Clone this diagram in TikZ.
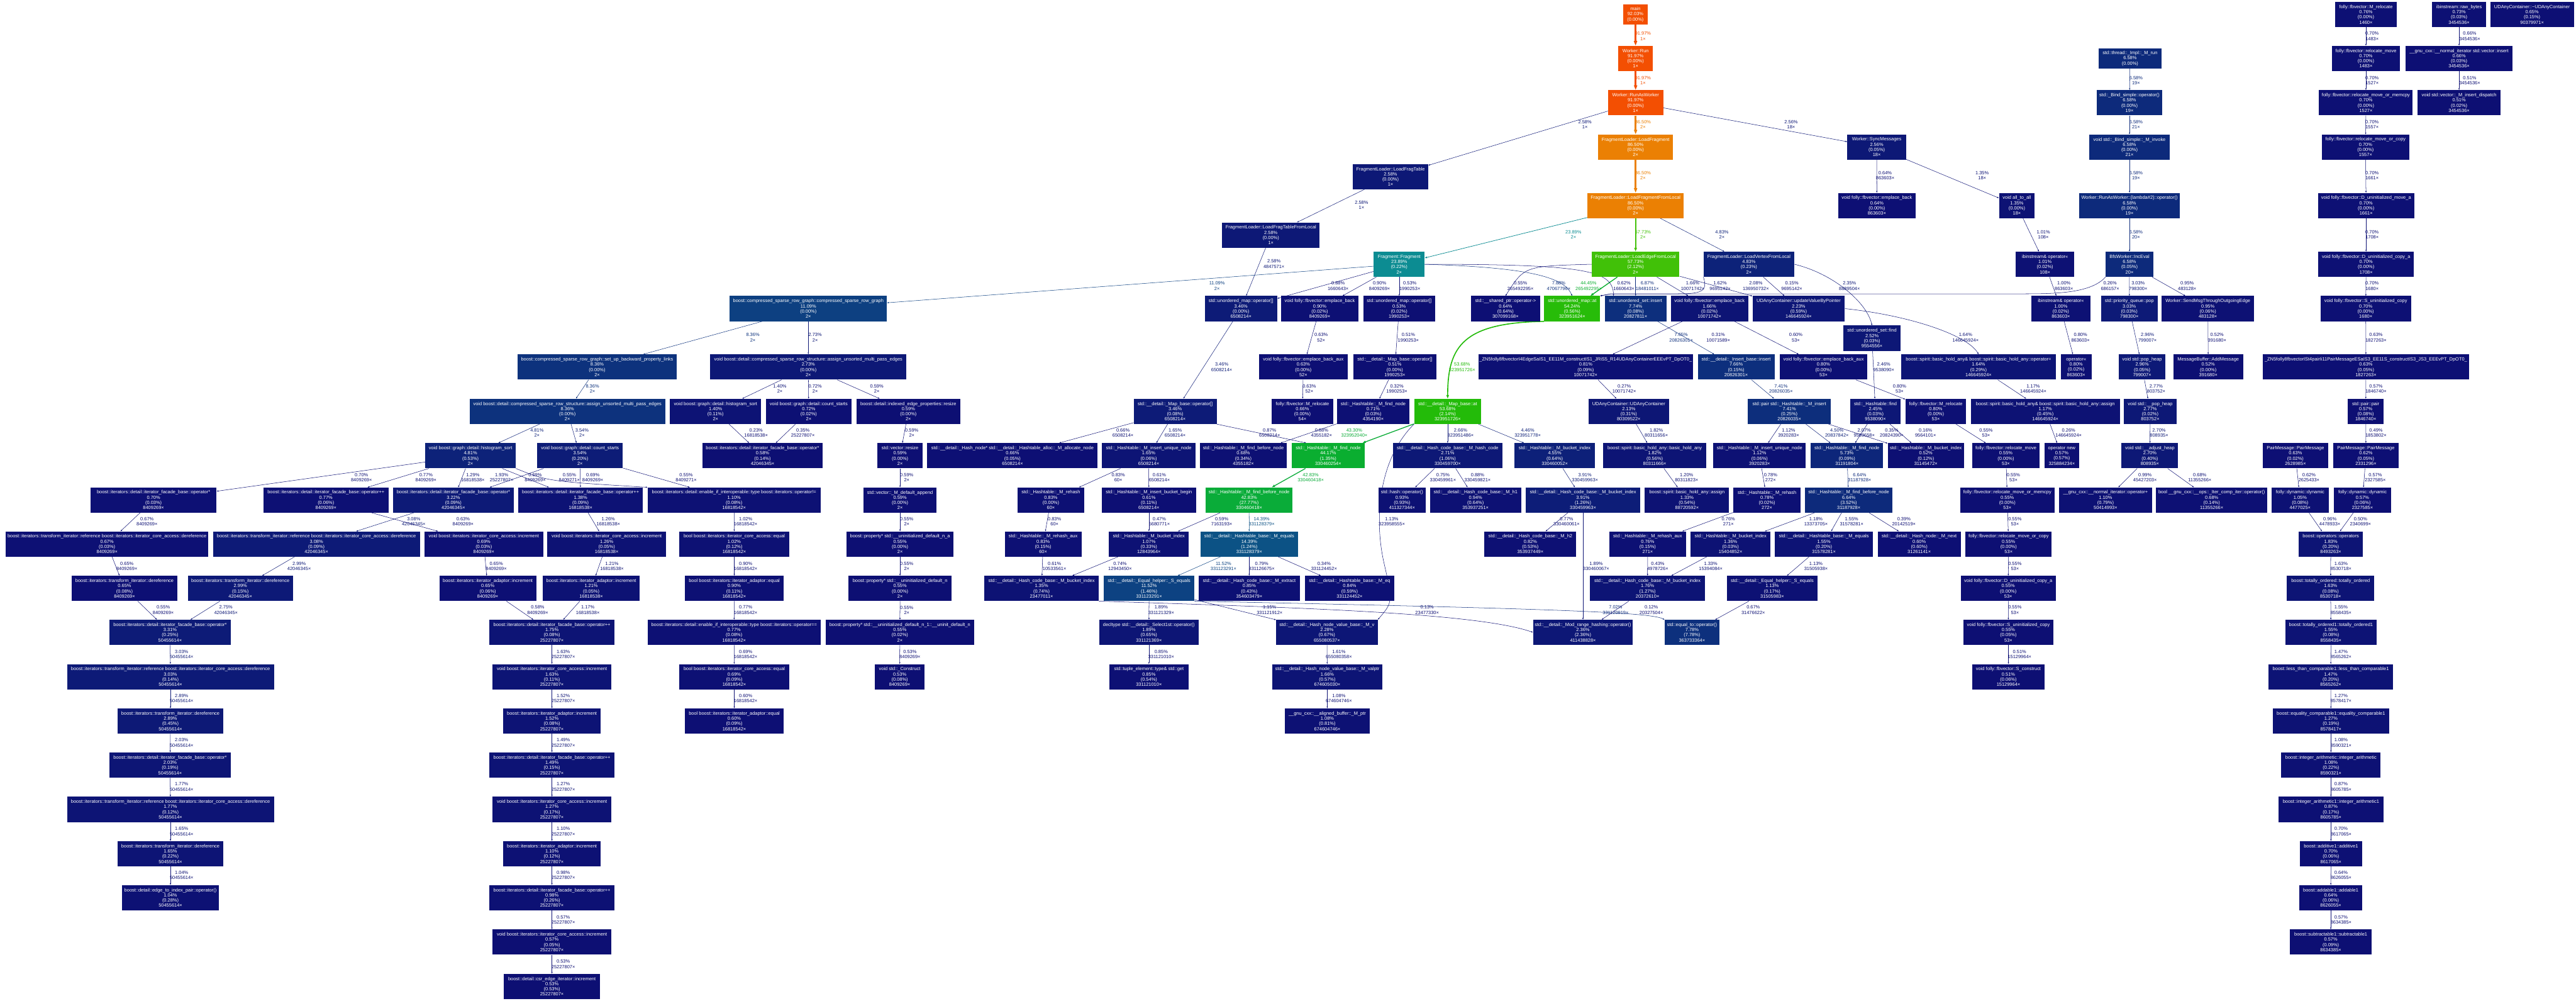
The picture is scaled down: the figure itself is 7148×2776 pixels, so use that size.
\documentclass[tikz,border=0pt]{standalone}
\usepackage{fontspec}
\setmainfont{Liberation Sans}
\usetikzlibrary{arrows.meta}
\pgfdeclarelayer{back}
\pgfdeclarelayer{bg}
\pgfsetlayers{back,bg,main}
\newcommand\hueval[3]{%
  \pgfmathparse{mod(#3+1,1)}\let\hx\pgfmathresult
  \pgfmathparse{max(0,min(1,ifthenelse(\hx*6<1,#1+(#2-#1)*\hx*6,ifthenelse(\hx*2<1,#2,ifthenelse(\hx*3<2,#1+(#2-#1)*(2/3-\hx)*6,#1)))))}%
}
\newcommand\gcol[2]{%
  \pgfmathsetmacro\cW{min(max(#2/100,0),1)}%
  \pgfmathsetmacro\cH{2/3*(1-\cW)}%
  \pgfmathsetmacro\cS{0.8+0.2*\cW}%
  \pgfmathsetmacro\cL{0.25+0.25*\cW}%
  \pgfmathsetmacro\cMb{\cL*(\cS+1)}%
  \pgfmathsetmacro\cMa{2*\cL-\cMb}%
  \hueval\cMa\cMb{\cH+1/3}\let\cR\pgfmathresult
  \hueval\cMa\cMb{\cH}\let\cG\pgfmathresult
  \hueval\cMa\cMb{\cH-1/3}\let\cB\pgfmathresult
  \definecolor{#1}{rgb}{\cR,\cG,\cB}%
}
\tikzset{
  nd/.style={rectangle, inner sep=0pt, minimum height=35pt, text=white, align=center, font=\fontsize{6.5}{7.25}\selectfont},
  lab/.style={inner sep=0pt, align=center, font=\fontsize{6.5}{7.25}\selectfont}
}
\newcommand\N[8]{%
  \gcol{ncol}{#6}%
  \pgfmathsetlengthmacro\nw{(#3-#2)*0.5pt}%
  \node[nd, fill=ncol, minimum width=\nw] (#1) at ({(#2+#3)/2},#4) {#5\\#6\%\\(#7\%)\\#8×};%
}
\newcommand\NT[7]{%
  \gcol{ncol}{#6}%
  \pgfmathsetlengthmacro\nw{(#3-#2)*0.5pt}%
  \node[nd, fill=ncol, minimum width=\nw, minimum height=27.5pt] (#1) at ({(#2+#3)/2},#4) {#5\\#6\%\\(#7\%)};%
}
\newcount\lcnt
\newcommand\E[7][--]{%
  \global\advance\lcnt by 1
  \begin{pgfonlayer}{bg}%
  \gcol{ecol}{#4}%
  \pgfmathsetmacro\pw{max(#4/100*4,0.5)}%
  \pgfmathsetlengthmacro\ew{max(\pw*0.667,0.45)*1pt}%
  \pgfmathsetlengthmacro\al{0.5*sqrt(\pw)*6.67pt}%
  \pgfmathsetlengthmacro\aw{0.5*sqrt(\pw)*4.6pt}%
  \edef\etmp{\noexpand\draw[ecol, line width=\ew, -{Triangle[length=\al, width=\aw]}]}%
  \etmp (#2) #1 (#3);
  \node[lab, text=ecol] (lab\the\lcnt) at (#6,#7) {#4\%\\#5×};
  \end{pgfonlayer}%
}
\newcommand\kIFB{boost::iterators::detail::iterator\_facade\_base::operator}
\newcommand\kTRD{boost::iterators::transform\_iterator::reference boost::iterators::iterator\_core\_access::dereference}
\newcommand\kTID{boost::iterators::transform\_iterator::dereference}
\newcommand\kICI{void boost::iterators::iterator\_core\_access::increment}
\newcommand\kIAI{boost::iterators::iterator\_adaptor::increment}
\begin{document}
\begin{tikzpicture}[x=0.5pt,y=-0.5pt]
\useasboundingbox (0,0) rectangle (7148,2776);
\begin{pgfonlayer}{back}\fill[white] (0,0) rectangle (7148,2776);\end{pgfonlayer}
% row 40
\NT{main}{4504}{4572}{40}{main}{92.03}{0.00}
\N{mrela}{6480}{6650}{40}{folly::fbvector::M\_relocate}{0.76}{0.00}{1460}
\N{rawb}{6749}{6898}{40}{ibinstream::raw\_bytes}{0.73}{0.03}{3454536}
\N{udd}{6910}{7142}{40}{UDAnyContainer::\textasciitilde UDAnyContainer}{0.65}{0.15}{90379971}
% row 162
\N{run}{4491}{4586}{162}{Worker::Run}{91.97}{0.00}{1}
\NT{mrun}{5823}{5998}{162}{std::thread::\_Impl::\_M\_run}{6.58}{0.00}
\N{rmva}{6471}{6659}{162}{folly::fbvector::relocate\_move}{0.70}{0.00}{1483}
\N{vins}{6675}{6972}{162}{\_\_gnu\_cxx::\_\_normal\_iterator std::vector::insert}{0.66}{0.03}{3454536}
% row 285
\N{raw}{4462}{4615}{285}{Worker::RunAsWorker}{91.97}{0.00}{1}
\N{bsop}{5818}{6000}{285}{std::\_Bind\_simple::operator()}{6.58}{0.00}{19}
\N{rmma}{6435}{6695}{285}{folly::fbvector::relocate\_move\_or\_memcpy}{0.70}{0.00}{1527}
\N{insd}{6709}{6938}{285}{void std::vector::\_M\_insert\_dispatch}{0.51}{0.02}{3454536}
% row 408
\N{lf}{4435}{4642}{408}{FragmentLoader::LoadFragment}{86.50}{0.00}{2}
\N{sync}{5126}{5289}{408}{Worker::SyncMessages}{2.56}{0.05}{18}
\N{bsinv}{5798}{6020}{408}{void std::\_Bind\_simple::\_M\_invoke}{6.58}{0.00}{21}
\N{rmca}{6443}{6685}{408}{folly::fbvector::relocate\_move\_or\_copy}{0.70}{0.00}{1557}
\N{lft}{3754}{3963}{490}{FragmentLoader::LoadFragTable}{2.58}{0.00}{1}
% row 570
\N{lffl}{4405}{4672}{570}{FragmentLoader::LoadFragmentFromLocal}{86.50}{0.00}{2}
\N{emba}{5101}{5315}{570}{void folly::fbvector::emplace\_back}{0.64}{0.00}{863603}
\N{atoa}{5547}{5646}{570}{void all\_to\_all}{1.35}{0.00}{18}
\N{lam}{5769}{6049}{570}{Worker::RunAsWorker::\{lambda\#2\}::operator()}{6.58}{0.00}{19}
\N{duma}{6432}{6699}{570}{void folly::fbvector::D\_uninitialized\_move\_a}{0.70}{0.00}{1661}
\N{lftl}{3391}{3662}{652}{FragmentLoader::LoadFragTableFromLocal}{2.58}{0.00}{1}
% row 733
\N{frag}{3812}{3953}{733}{Fragment::Fragment}{23.89}{0.22}{2}
\N{lefl}{4417}{4660}{733}{FragmentLoader::LoadEdgeFromLocal}{57.73}{2.12}{2}
\N{lvfl}{4727}{4979}{733}{FragmentLoader::LoadVertexFromLocal}{4.83}{0.23}{2}
\N{ibina}{5593}{5756}{733}{ibinstream\& operator<<}{1.01}{0.02}{108}
\N{inc}{5843}{5975}{733}{BfsWorker::IncEval}{6.58}{0.05}{20}
\N{duca}{6433}{6698}{733}{void folly::fbvector::D\_uninitialized\_copy\_a}{0.70}{0.00}{1708}
% row 856
\N{csr}{2025}{2461}{856}{boost::compressed\_sparse\_row\_graph::compressed\_sparse\_row\_graph}{11.09}{0.00}{2}
\N{umopa}{3343}{3544}{856}{std::unordered\_map::operator[]}{3.46}{0.00}{6508214}
\N{embb}{3555}{3769}{856}{void folly::fbvector::emplace\_back}{0.90}{0.02}{8409269}
\N{umopb}{3783}{3982}{856}{std::unordered\_map::operator[]}{0.53}{0.02}{1990253}
\N{shp}{4082}{4273}{856}{std::\_\_shared\_ptr::operator->}{0.64}{0.64}{307099168}
\N{umat}{4285}{4440}{856}{std::unordered\_map::at}{54.24}{0.56}{323951624}
\N{usins}{4453}{4624}{856}{std::unordered\_set::insert}{7.74}{0.08}{20827811}
\N{embc}{4636}{4851}{856}{void folly::fbvector::emplace\_back}{1.66}{0.02}{10071742}
\N{udup}{4863}{5119}{856}{UDAnyContainer::updateValueByPointer}{2.23}{0.59}{146645924}
\N{ibinb}{5637}{5800}{856}{ibinstream\& operator<<}{1.00}{0.02}{863603}
\N{pq}{5830}{5987}{856}{std::priority\_queue::pop}{3.03}{0.03}{798300}
\N{send}{5998}{6255}{856}{Worker::SendMsgThroughOutgoingEdge}{0.95}{0.06}{483128}
\N{suca}{6439}{6690}{856}{void folly::fbvector::S\_uninitialized\_copy}{0.70}{0.00}{1680}
\N{usfind}{5115}{5274}{938}{std::unordered\_set::find}{2.52}{0.03}{9554556}
% row 1018
\N{sub}{1436}{1878}{1018}{boost::compressed\_sparse\_row\_graph::set\_up\_backward\_property\_links}{8.36}{0.00}{2}
\N{asmb}{1971}{2515}{1018}{void boost::detail::compressed\_sparse\_row\_structure::assign\_unsorted\_multi\_pass\_edges}{2.73}{0.00}{2}
\N{ebaa}{3494}{3739}{1018}{void folly::fbvector::emplace\_back\_aux}{0.63}{0.00}{52}
\N{mbopb}{3755}{3986}{1018}{std::\_\_detail::\_Map\_base::operator[]}{0.51}{0.00}{1990253}
\N{zna}{4102}{4698}{1018}{\_ZN5folly8fbvectorI4EdgeSaIS1\_EE11M\_constructIS1\_JRiS5\_R14UDAnyContainerEEEvPT\_DpOT0\_}{0.81}{0.09}{10071742}
\N{insb}{4711}{4924}{1018}{std::\_\_detail::\_Insert\_base::insert}{7.66}{0.15}{20826301}
\N{ebab}{4938}{5182}{1018}{void folly::fbvector::emplace\_back\_aux}{0.80}{0.00}{53}
\N{hao}{5275}{5705}{1018}{boost::spirit::basic\_hold\_any\& boost::spirit::basic\_hold\_any::operator=}{1.64}{0.29}{146645924}
\N{opll}{5718}{5804}{1018}{operator<<}{0.80}{0.02}{863603}
\N{poph}{5879}{6009}{1018}{void std::pop\_heap}{2.96}{0.05}{799007}
\N{addm}{6031}{6224}{1018}{MessageBuffer::AddMessage}{0.52}{0.00}{391680}
\N{znb}{6278}{6852}{1018}{\_ZN5folly8fbvectorISt4pairIi11PairMessageESaIS3\_EE11S\_constructIS3\_JS3\_EEEvPT\_DpOT0\_}{0.63}{0.05}{1827263}
% row 1141
\N{asma}{1303}{1846}{1141}{void boost::detail::compressed\_sparse\_row\_structure::assign\_unsorted\_multi\_pass\_edges}{8.36}{0.00}{2}
\N{hsb}{1859}{2112}{1141}{void boost::graph::detail::histogram\_sort}{1.40}{0.11}{2}
\N{csb}{2125}{2363}{1141}{void boost::graph::detail::count\_starts}{0.72}{0.02}{2}
\N{iepr}{2376}{2665}{1141}{boost::detail::indexed\_edge\_properties::resize}{0.59}{0.00}{2}
\N{mbopa}{3146}{3376}{1141}{std::\_\_detail::\_Map\_base::operator[]}{3.46}{0.08}{6508214}
\N{mrelb}{3529}{3699}{1141}{folly::fbvector::M\_relocate}{0.66}{0.00}{54}
\N{fnb}{3710}{3911}{1141}{std::\_Hashtable::\_M\_find\_node}{0.71}{0.03}{4354190}
\N{mbat}{3924}{4110}{1141}{std::\_\_detail::\_Map\_base::at}{53.68}{2.14}{323951726}
\N{udc}{4408}{4631}{1141}{UDAnyContainer::UDAnyContainer}{2.13}{0.31}{80309522}
\N{hins}{4850}{5080}{1141}{std::pair std::\_Hashtable::\_M\_insert}{7.41}{0.25}{20826035}
\N{hfind}{5134}{5274}{1141}{std::\_Hashtable::find}{2.45}{0.03}{9538090}
\N{mrelc}{5287}{5456}{1141}{folly::fbvector::M\_relocate}{0.80}{0.00}{53}
\N{hasg}{5469}{5882}{1141}{boost::spirit::basic\_hold\_any\& boost::spirit::basic\_hold\_any::assign}{1.17}{0.45}{146645924}
\N{pph}{5894}{6039}{1141}{void std::\_\_pop\_heap}{2.77}{0.02}{803752}
\N{pair}{6515}{6614}{1141}{std::pair::pair}{0.57}{0.08}{1846740}
% row 1264
\N{hsa}{1180}{1431}{1264}{void boost::graph::detail::histogram\_sort}{4.81}{0.53}{2}
\N{csa}{1491}{1728}{1264}{void boost::graph::detail::count\_starts}{3.54}{0.20}{2}
\N{ifoa}{1949}{2283}{1264}{\kIFB*}{0.58}{0.14}{42046345}
\N{vres}{2435}{2560}{1264}{std::vector::resize}{0.59}{0.00}{2}
\N{alloc}{2573}{3046}{1264}{std::\_\_detail::\_Hash\_node* std::\_\_detail::\_Hashtable\_alloc::\_M\_allocate\_node}{0.66}{0.05}{6508214}
\N{iuna}{3058}{3317}{1264}{std::\_Hashtable::\_M\_insert\_unique\_node}{1.65}{0.06}{6508214}
\N{fbnb}{3329}{3571}{1264}{std::\_Hashtable::\_M\_find\_before\_node}{0.68}{0.34}{4355182}
\N{fna}{3585}{3786}{1264}{std::\_Hashtable::\_M\_find\_node}{44.17}{1.35}{330460254}
\N{hcode}{3865}{4169}{1264}{std::\_\_detail::\_Hash\_code\_base::\_M\_hash\_code}{2.71}{1.06}{330459700}
\N{bia}{4203}{4425}{1264}{std::\_Hashtable::\_M\_bucket\_index}{4.55}{0.64}{330460052}
\N{bha}{4448}{4735}{1264}{boost::spirit::basic\_hold\_any::basic\_hold\_any}{1.82}{0.56}{80311666}
\N{iunb}{4754}{5011}{1264}{std::\_Hashtable::\_M\_insert\_unique\_node}{1.12}{0.06}{3920283}
\N{fnc}{5025}{5225}{1264}{std::\_Hashtable::\_M\_find\_node}{5.73}{0.09}{31191804}
\N{bib}{5238}{5450}{1264}{std::\_Hashtable::\_M\_bucket\_index}{0.52}{0.12}{31145472}
\N{rmvb}{5472}{5660}{1264}{folly::fbvector::relocate\_move}{0.55}{0.00}{53}
\N{opnew}{5673}{5769}{1264}{operator new}{0.57}{0.57}{325884234}
\N{adjh}{5887}{6044}{1264}{void std::\_\_adjust\_heap}{2.70}{0.40}{808935}
\N{pma}{6278}{6461}{1264}{PairMessage::PairMessage}{0.63}{0.02}{2628985}
\N{pmb}{6474}{6656}{1264}{PairMessage::PairMessage}{0.62}{0.05}{2331296}
% row 1387
\N{ifob}{251}{601}{1387}{\kIFB*}{0.70}{0.03}{8409269}
\N{ifpa}{731}{1078}{1387}{\kIFB++}{0.77}{0.06}{8409269}
\N{ifoc}{1090}{1426}{1387}{\kIFB*}{3.22}{0.09}{42046345}
\N{ifpb}{1438}{1784}{1387}{\kIFB++}{1.38}{0.09}{16818538}
\N{eine}{1797}{2277}{1387}{boost::iterators::detail::enable\_if\_interoperable::type boost::iterators::operator!=}{1.10}{0.08}{16818542}
\N{dapp}{2396}{2599}{1387}{std::vector::\_M\_default\_append}{0.59}{0.00}{2}
\N{reha}{2823}{3009}{1387}{std::\_Hashtable::\_M\_rehash}{0.83}{0.00}{60}
\N{ibb}{3057}{3319}{1387}{std::\_Hashtable::\_M\_insert\_bucket\_begin}{0.61}{0.11}{6508214}
\N{fbna}{3345}{3587}{1387}{std::\_Hashtable::\_M\_find\_before\_node}{42.83}{27.77}{330460418}
\N{hash}{3825}{3956}{1387}{std::hash::operator()}{0.93}{0.93}{411327344}
\N{hone}{3968}{4221}{1387}{std::\_\_detail::\_Hash\_code\_base::\_M\_h1}{0.94}{0.64}{353937251}
\N{hcba}{4233}{4552}{1387}{std::\_\_detail::\_Hash\_code\_base::\_M\_bucket\_index}{3.91}{1.26}{330459963}
\N{hasn}{4564}{4798}{1387}{boost::spirit::basic\_hold\_any::assign}{1.33}{0.54}{88720592}
\N{rehb}{4810}{4996}{1387}{std::\_Hashtable::\_M\_rehash}{0.78}{0.02}{272}
\N{fbnc}{5009}{5251}{1387}{std::\_Hashtable::\_M\_find\_before\_node}{6.64}{3.52}{31187928}
\N{rmmb}{5439}{5701}{1387}{folly::fbvector::relocate\_move\_or\_memcpy}{0.55}{0.00}{53}
\N{nip}{5714}{5971}{1387}{\_\_gnu\_cxx::\_\_normal\_iterator::operator+}{1.10}{0.79}{50414993}
\N{icmp}{5983}{6291}{1387}{bool \_\_gnu\_cxx::\_\_ops::\_Iter\_comp\_iter::operator()}{0.68}{0.14}{11355266}
\N{dyna}{6303}{6462}{1387}{folly::dynamic::dynamic}{1.05}{0.08}{4477025}
\N{dynb}{6476}{6635}{1387}{folly::dynamic::dynamic}{0.57}{0.06}{2327585}
% row 1509
\N{icda}{16}{578}{1509}{\kTRD}{0.67}{0.03}{8409269}
\N{trdb}{591}{1165}{1509}{\kTRD}{3.08}{0.09}{42046345}
\N{icia}{1178}{1507}{1509}{\kICI}{0.69}{0.03}{8409269}
\N{icib}{1519}{1848}{1509}{\kICI}{1.26}{0.05}{16818538}
\N{iceq}{1885}{2190}{1509}{bool boost::iterators::iterator\_core\_access::equal}{1.02}{0.12}{16818542}
\N{udna}{2349}{2646}{1509}{boost::property* std::\_\_uninitialized\_default\_n\_a}{0.55}{0.00}{2}
\N{rhaa}{2788}{3001}{1509}{std::\_Hashtable::\_M\_rehash\_aux}{0.83}{0.15}{60}
\N{bic}{3077}{3299}{1509}{std::\_Hashtable::\_M\_bucket\_index}{1.07}{0.33}{12843964}
\N{meqa}{3331}{3602}{1509}{std::\_\_detail::\_Hashtable\_base::\_M\_equals}{14.39}{1.24}{331128379}
\N{htwo}{4119}{4374}{1509}{std::\_\_detail::\_Hash\_code\_base::\_M\_h2}{0.82}{0.53}{353937449}
\N{rhab}{4465}{4679}{1509}{std::\_Hashtable::\_M\_rehash\_aux}{0.76}{0.15}{271}
\N{bid}{4691}{4913}{1509}{std::\_Hashtable::\_M\_bucket\_index}{1.36}{0.03}{15404852}
\N{meqb}{4925}{5197}{1509}{std::\_\_detail::\_Hashtable\_base::\_M\_equals}{1.55}{0.20}{31578281}
\N{next}{5210}{5441}{1509}{std::\_\_detail::\_Hash\_node::\_M\_next}{0.60}{0.60}{31261141}
\N{rmcb}{5454}{5693}{1509}{folly::fbvector::relocate\_move\_or\_copy}{0.55}{0.00}{53}
\N{opers}{6378}{6557}{1509}{boost::operators::operators}{1.83}{0.20}{8493263}
% row 1632
\N{tdra}{199}{492}{1632}{\kTID}{0.65}{0.08}{8409269}
\N{tdrb}{521}{813}{1632}{\kTID}{2.99}{0.15}{42046345}
\N{iaia}{1219}{1488}{1632}{\kIAI}{0.65}{0.06}{8409269}
\N{iaib}{1506}{1775}{1632}{\kIAI}{1.21}{0.05}{16818538}
\N{iaea}{1900}{2175}{1632}{bool boost::iterators::iterator\_adaptor::equal}{0.90}{0.11}{16818542}
\N{udn}{2355}{2640}{1632}{boost::property* std::\_\_uninitialized\_default\_n}{0.55}{0.00}{2}
\N{hcbb}{2731}{3049}{1632}{std::\_\_detail::\_Hash\_code\_base::\_M\_bucket\_index}{1.35}{0.74}{23477011}
\N{seqa}{3063}{3314}{1632}{std::\_\_detail::\_Equal\_helper::\_S\_equals}{11.52}{1.46}{331123291}
\N{mext}{3326}{3607}{1632}{std::\_\_detail::\_Hash\_code\_base::\_M\_extract}{0.85}{0.43}{354603479}
\N{meqc}{3621}{3869}{1632}{std::\_\_detail::\_Hashtable\_base::\_M\_eq}{0.84}{0.59}{331124452}
\N{hcbc}{4412}{4731}{1632}{std::\_\_detail::\_Hash\_code\_base::\_M\_bucket\_index}{1.76}{1.27}{20372610}
\N{seqb}{4792}{5043}{1632}{std::\_\_detail::\_Equal\_helper::\_S\_equals}{1.13}{0.17}{31505983}
\N{ducb}{5441}{5704}{1632}{void folly::fbvector::D\_uninitialized\_copy\_a}{0.55}{0.00}{53}
\N{tord}{6346}{6588}{1632}{boost::totally\_ordered::totally\_ordered}{1.63}{0.08}{8530718}
% row 1754
\N{ifod}{304}{640}{1754}{\kIFB*}{3.31}{0.25}{50455614}
\N{ifpc}{1358}{1705}{1754}{\kIFB++}{1.75}{0.08}{25227807}
\N{eieq}{1797}{2277}{1754}{boost::iterators::detail::enable\_if\_interoperable::type boost::iterators::operator==}{0.77}{0.08}{16818542}
\N{udno}{2291}{2703}{1754}{boost::property* std::\_\_uninitialized\_default\_n\_1::\_\_uninit\_default\_n}{0.55}{0.02}{2}
\N{sel}{3050}{3326}{1754}{decltype std::\_\_detail::\_Select1st::operator()}{1.89}{0.65}{331121369}
\N{mv}{3541}{3823}{1754}{std::\_\_detail::\_Hash\_node\_value\_base::\_M\_v}{2.28}{0.67}{655080537}
\N{mrh}{4254}{4531}{1754}{std::\_\_detail::\_Mod\_range\_hashing::operator()}{2.36}{2.36}{411438828}
\N{eqto}{4619}{4771}{1754}{std::equal\_to::operator()}{7.78}{7.78}{363733364}
\N{sucb}{5448}{5698}{1754}{void folly::fbvector::S\_uninitialized\_copy}{0.55}{0.05}{53}
\N{tordo}{6341}{6595}{1754}{boost::totally\_ordered1::totally\_ordered1}{1.55}{0.08}{8558435}
% row 1877
\N{trdc}{186}{760}{1877}{\kTRD}{3.03}{0.14}{50455614}
\N{icic}{1367}{1696}{1877}{\kICI}{1.63}{0.11}{25227807}
\N{iceqb}{1885}{2190}{1877}{bool boost::iterators::iterator\_core\_access::equal}{0.69}{0.09}{16818542}
\N{cons}{2427}{2566}{1877}{void std::\_Construct}{0.53}{0.08}{8409269}
\N{get}{3078}{3298}{1877}{std::tuple\_element::type\& std::get}{0.85}{0.54}{331121010}
\N{vptr}{3530}{3836}{1877}{std::\_\_detail::\_Hash\_node\_value\_base::\_M\_valptr}{1.66}{0.57}{674605030}
\N{scons}{5472}{5674}{1877}{void folly::fbvector::S\_construct}{0.51}{0.06}{15129964}
\N{ltc}{6295}{6640}{1877}{boost::less\_than\_comparable1::less\_than\_comparable1}{1.47}{0.20}{8565262}
% row 2000
\N{tdrc}{326}{620}{2000}{\kTID}{2.89}{0.45}{50455614}
\N{iaic}{1396}{1667}{2000}{\kIAI}{1.52}{0.08}{25227807}
\N{iaeb}{1900}{2175}{2000}{bool boost::iterators::iterator\_adaptor::equal}{0.60}{0.09}{16818542}
\N{mptr}{3566}{3800}{2000}{\_\_gnu\_cxx::\_\_aligned\_buffer::\_M\_ptr}{1.08}{0.81}{674604746}
\N{eqc}{6307}{6629}{2000}{boost::equality\_comparable1::equality\_comparable1}{1.27}{0.19}{8578417}
% rows 2122-2736
\N{ifoe}{304}{640}{2122}{\kIFB*}{2.03}{0.19}{50455614}
\N{ifpd}{1358}{1705}{2122}{\kIFB++}{1.49}{0.15}{25227807}
\N{iar}{6330}{6606}{2122}{boost::integer\_arithmetic::integer\_arithmetic}{1.08}{0.22}{8590321}
\N{trdd}{186}{760}{2245}{\kTRD}{1.77}{0.12}{50455614}
\N{icid}{1367}{1696}{2245}{\kICI}{1.27}{0.17}{25227807}
\N{iaro}{6322}{6614}{2245}{boost::integer\_arithmetic1::integer\_arithmetic1}{0.87}{0.17}{8605785}
\N{tdrd}{326}{620}{2368}{\kTID}{1.65}{0.22}{50455614}
\N{iaid}{1396}{1667}{2368}{\kIAI}{1.10}{0.12}{25227807}
\N{addo}{6382}{6554}{2368}{boost::additive1::additive1}{0.70}{0.06}{8617065}
\N{etip}{339}{607}{2490}{boost::detail::edge\_to\_index\_pair::operator()}{1.04}{0.28}{50455614}
\N{ifpe}{1358}{1705}{2490}{\kIFB++}{0.98}{0.26}{25227807}
\N{addb}{6380}{6555}{2490}{boost::addable1::addable1}{0.64}{0.06}{8626055}
\N{icie}{1367}{1696}{2613}{\kICI}{0.57}{0.05}{25227807}
\N{subt}{6354}{6581}{2613}{boost::subtractable1::subtractable1}{0.57}{0.09}{8634385}
\N{csri}{1398}{1665}{2736}{boost::detail::csr\_edge\_iterator::increment}{0.53}{0.53}{25227807}
% ---------------- edges
\E{main}{run}{91.97}{1}{4559}{100}
\E{run}{raw}{91.97}{1}{4559}{223}
\E{raw}{lft}{2.58}{1}{4398}{345}
\E{raw}{lf}{86.50}{2}{4559}{345}
\E{raw}{sync}{2.56}{18}{4970}{345}
\E{lf}{lffl}{86.50}{2}{4559}{487}
\E{sync}{emba}{0.64}{863603}{5231}{487}
\E{sync}{atoa}{1.35}{18}{5500}{487}
\E{lft}{lftl}{2.58}{1}{3778}{569}
\E{lffl}{frag}{23.89}{2}{4366}{651}
\E{lffl}{lefl}{57.73}{2}{4559}{651}
\E{lffl}{lvfl}{4.83}{2}{4778}{651}
\E{atoa}{ibina}{1.01}{108}{5670}{651}
\E{mrun}{bsop}{6.58}{19}{5927}{223}
\E{bsop}{bsinv}{6.58}{21}{5927}{345}
\E{bsinv}{lam}{6.58}{19}{5927}{487}
\E{lam}{inc}{6.58}{20}{5927}{651}
\E{mrela}{rmva}{0.70}{1483}{6582}{100}
\E{rawb}{vins}{0.66}{3454536}{6853}{100}
\E{rmva}{rmma}{0.70}{1527}{6582}{223}
\E{vins}{insd}{0.51}{3454536}{6853}{223}
\E{rmma}{rmca}{0.70}{1557}{6582}{345}
\E{rmca}{duma}{0.70}{1661}{6582}{487}
\E{duma}{duca}{0.70}{1708}{6582}{651}
\E{duca}{suca}{0.70}{1680}{6582}{793}
\E{lftl}{umopa}{2.58}{4847571}{3535}{732}
\E{frag}{csr}{11.09}{2}{3377}{793}
\E{frag}{umopa}{0.88}{1660643}{3713}{793}
\E{frag}{embb}{0.90}{8409269}{3828}{793}
\E{frag}{umopb}{0.53}{1990253}{3912}{793}
\E[.. controls (4230,738) ..]{lefl.west}{shp.north}{0.55}{265492295}{4219}{793}
\E[.. controls (4250,742) and (4340,770) ..]{frag.east}{umat.north}{7.88}{47067796}{4325}{793}
\E{lefl}{umat}{44.45}{265492295}{4408}{793}
\E[.. controls (4400,733) and (4475,750) ..]{frag.east}{usins.150}{0.62}{1660643}{4506}{793}
\E{lefl}{usins}{6.87}{18481011}{4571}{793}
\E{lefl}{embc}{1.66}{10071742}{4697}{793}
\E[.. controls (4740,810) and (4720,815) .. (4650,815) -- (4470,815) --]{lvfl.south west}{umat.north east}{1.62}{9695142}{4773}{793}
\E{lefl}{udup}{2.08}{136950732}{4872}{793}
\E{lvfl}{udup}{0.15}{9695142}{4972}{793}
\E[.. controls (5090,760) and (5180,840) ..]{lvfl.east}{usfind.north}{2.35}{8889504}{5132}{793}
\E{ibina}{ibinb}{1.00}{863603}{5727}{793}
\E[.. controls (5800,815) and (5700,815) .. (5600,815) -- (4470,815) --]{inc.south west}{umat.north east}{0.26}{686157}{5855}{793}
\E{inc}{pq}{3.03}{798300}{5933}{793}
\E{inc}{send}{0.95}{483128}{6069}{793}
\E{umopb}{mbopb}{0.51}{1990253}{3908}{936}
\E{usins}{insb}{7.65}{20826301}{4665}{936}
\E{embc}{zna}{0.31}{10071589}{4768}{936}
\E{embc}{ebab}{0.60}{53}{4983}{936}
\E[.. controls (5300,875) and (5460,930) ..]{udup.east}{hao.north}{1.64}{146645924}{5454}{936}
\E{ibinb}{opll}{0.80}{863603}{5773}{936}
\E{pq}{poph}{2.96}{799007}{5959}{936}
\E{send}{addm}{0.52}{391680}{6152}{936}
\E{suca}{znb}{0.63}{1827263}{6593}{936}
\E{csr}{sub}{8.36}{2}{2089}{936}
\E{csr}{asmb}{2.73}{2}{2262}{936}
\E{embb}{ebaa}{0.63}{52}{3666}{936}
\E{umopa}{mbopa}{3.46}{6508214}{3390}{1018}
\E{usfind}{hfind}{2.46}{9538090}{5227}{1018}
\E[.. controls (4060,895) and (4017,960) ..]{umat.south west}{mbat.north}{53.68}{323951726}{4057}{1018}
\E{sub}{asma}{8.36}{2}{1644}{1078}
\E{asmb}{hsb}{1.40}{2}{2164}{1078}
\E{asmb}{csb}{0.72}{2}{2262}{1078}
\E{asmb}{iepr}{0.59}{2}{2433}{1078}
\E{ebaa}{mrelb}{0.63}{52}{3633}{1078}
\E{mbopb}{fnb}{0.32}{1990253}{3876}{1078}
\E{zna}{udc}{0.27}{10071742}{4507}{1078}
\E{insb}{hins}{7.41}{20826035}{4942}{1078}
\E{ebab}{mrelc}{0.80}{53}{5271}{1078}
\E{hao}{hasg}{1.17}{146645924}{5642}{1078}
\E{poph}{pph}{2.77}{803752}{5983}{1078}
\E{znb}{pair}{0.57}{1846740}{6593}{1078}
\E{asma}{hsa}{4.81}{2}{1490}{1201}
\E{asma}{csa}{3.54}{2}{1615}{1201}
\E{hsb}{ifoa}{0.23}{16818538}{2098}{1201}
\E{csb}{ifoa}{0.35}{25227807}{2228}{1201}
\E{iepr}{vres}{0.59}{2}{2530}{1201}
\E{mbopa}{alloc}{0.66}{6508214}{3116}{1201}
\E{mbopa}{iuna}{1.65}{6508214}{3261}{1201}
\E{mbopa.south east}{fna.150}{0.87}{6508214}{3523}{1201}
\E{fnb}{fbnb}{0.68}{4355182}{3667}{1201}
\E{mbat}{fna}{43.30}{323952040}{3758}{1201}
\E{mbat}{hcode}{2.66}{323951486}{4053}{1201}
\E{mbat}{bia}{4.46}{323951778}{4239}{1201}
\E{udc}{bha}{1.82}{80311656}{4596}{1201}
\E{hins}{iunb}{1.12}{3920283}{4963}{1201}
\E{hins}{fnc}{4.50}{20837842}{5097}{1201}
\E{hfind}{fnc}{2.07}{9589658}{5173}{1201}
\E{hins}{bib}{0.35}{20824390}{5249}{1201}
\E{hfind}{bib}{0.16}{9564101}{5343}{1201}
\E{mrelc}{rmvb}{0.55}{53}{5511}{1201}
\E{hasg}{opnew}{0.26}{146645924}{5740}{1201}
\E{pph}{adjh}{2.70}{808935}{5991}{1201}
\E{pair}{pmb}{0.49}{1853802}{6593}{1201}
\E{hsa}{ifob}{0.70}{8409269}{1003}{1324}
\E{hsa}{ifpa}{0.77}{8409269}{1182}{1324}
\E{hsa}{ifoc}{1.29}{16818538}{1312}{1324}
\E{csa}{ifoc}{1.93}{25227807}{1392}{1324}
\E{hsa}{ifpb}{0.69}{8409269}{1485}{1324}
\E[.. controls (1520,1335) ..]{hsa.south east}{eine.north west}{0.55}{8409271}{1580}{1324}
\E{csa}{ifpb}{0.69}{8409269}{1645}{1324}
\E{csa}{eine}{0.55}{8409271}{1904}{1324}
\E{vres}{dapp}{0.59}{2}{2516}{1324}
\E{iuna}{reha}{0.83}{60}{3103}{1324}
\E{iuna}{ibb}{0.61}{6508214}{3217}{1324}
\E{fna}{fbna}{42.83}{330460418}{3637}{1324}
\E{hcode}{hash}{0.75}{330459961}{4004}{1324}
\E{hcode}{hone}{0.88}{330459821}{4100}{1324}
\E{bia}{hcba}{3.91}{330459963}{4398}{1324}
\E{bha}{hasn}{1.20}{80311823}{4680}{1324}
\E{iunb}{rehb}{0.78}{272}{4913}{1324}
\E{fnc}{fbnc}{6.64}{31187928}{5160}{1324}
\E{rmvb}{rmmb}{0.55}{53}{5587}{1324}
\E{adjh}{nip}{0.99}{45427203}{5952}{1324}
\E{adjh}{icmp}{0.68}{11355266}{6104}{1324}
\E{pma}{dyna}{0.62}{2625433}{6407}{1324}
\E{pmb}{dynb}{0.57}{2327585}{6591}{1324}
\E{ifob}{icda}{0.67}{8409269}{408}{1447}
\E{ifoc}{trdb}{3.08}{42046345}{1148}{1447}
\E{ifpa}{icia}{0.63}{8409269}{1285}{1447}
\E{ifpb}{icib}{1.26}{16818538}{1688}{1447}
\E{eine}{iceq}{1.02}{16818542}{2069}{1447}
\E{dapp}{udna}{0.55}{2}{2516}{1447}
\E{reha}{rhaa}{0.83}{60}{2926}{1447}
\E{ibb}{bic}{0.47}{5680771}{3217}{1447}
\E{fbna}{bic}{0.59}{7163193}{3390}{1447}
\E{fbna}{meqa}{14.39}{331128379}{3501}{1447}
\E[.. controls (3820,1280) and (3815,1450) .. (3840,1560) .. controls (3865,1670) ..]{mbat.south west}{mv.north east}{1.13}{323958555}{3862}{1447}
\E{hcba}{htwo}{0.77}{330460061}{4347}{1447}
\E{rehb}{rhab}{0.76}{271}{4796}{1447}
\E{fbnc}{bid}{1.18}{13373705}{5039}{1447}
\E{fbnc}{meqb}{1.55}{31578281}{5138}{1447}
\E{fbnc}{next}{0.39}{20142519}{5283}{1447}
\E{rmmb}{rmcb}{0.55}{53}{5591}{1447}
\E{dyna}{opers}{0.96}{4478933}{6465}{1447}
\E{dynb}{opers}{0.50}{2340699}{6550}{1447}
\E{icda}{tdra}{0.65}{8409269}{352}{1570}
\E{trdb}{tdrb}{2.99}{42046345}{830}{1570}
\E{icia}{iaia}{0.65}{8409269}{1377}{1570}
\E{icib}{iaib}{1.21}{16818538}{1698}{1570}
\E{iceq}{iaea}{0.90}{16818542}{2069}{1570}
\E{udna}{udn}{0.55}{2}{2516}{1570}
\E{rhaa}{hcbb}{0.61}{10533561}{2926}{1570}
\E{bic}{hcbb}{0.74}{12943450}{3108}{1570}
\E{meqa}{seqa}{11.52}{331123291}{3395}{1570}
\E{meqa}{mext}{0.79}{331126675}{3501}{1570}
\E{meqa}{meqc}{0.34}{331124452}{3674}{1570}
\E{hcba}{mrh}{1.89}{330460067}{4429}{1570}
\E{rhab}{hcbc}{0.43}{4978726}{4600}{1570}
\E{bid}{hcbc}{1.33}{15394084}{4747}{1570}
\E{meqb}{seqb}{1.13}{31505938}{5039}{1570}
\E{rmcb}{ducb}{0.55}{53}{5591}{1570}
\E{opers}{tord}{1.63}{8530718}{6496}{1570}
\E{tdra}{ifod}{0.55}{8409269}{453}{1692}
\E{tdrb}{ifod}{2.75}{42046345}{627}{1692}
\E{iaia}{ifpc}{0.58}{8409269}{1492}{1692}
\E{iaib}{ifpc}{1.17}{16818538}{1631}{1692}
\E{iaea}{eieq}{0.77}{16818542}{2069}{1692}
\E{udn}{udno}{0.55}{2}{2516}{1692}
\E{seqa}{sel}{1.89}{331121329}{3222}{1692}
\E{seqa}{mv}{1.15}{331121912}{3523}{1692}
\E[.. controls (3600,1685) and (4100,1700) ..]{hcbb.south east}{mrh.west}{0.13}{23477330}{3960}{1692}
\E[.. controls (4300,1688) and (4580,1698) ..]{seqa.south east}{eqto.north west}{7.02}{331120919}{4483}{1692}
\E{hcbc}{mrh}{0.12}{20327504}{4582}{1692}
\E{seqb}{eqto}{0.67}{31476622}{4865}{1692}
\E{ducb}{sucb}{0.55}{53}{5591}{1692}
\E{tord}{tordo}{1.55}{8558435}{6496}{1692}
\E{ifod}{trdc}{3.03}{50455614}{504}{1815}
\E{ifpc}{icic}{1.63}{25227807}{1563}{1815}
\E{eieq}{iceqb}{0.69}{16818542}{2069}{1815}
\E{udno}{cons}{0.53}{8409269}{2525}{1815}
\E{sel}{get}{0.85}{331121010}{3222}{1815}
\E{mv}{vptr}{1.61}{655080358}{3715}{1815}
\E{sucb}{scons}{0.51}{15129964}{5604}{1815}
\E{tordo}{ltc}{1.47}{8565262}{6496}{1815}
\E{trdc}{tdrc}{2.89}{50455614}{504}{1937}
\E{icic}{iaic}{1.52}{25227807}{1563}{1937}
\E{iceqb}{iaeb}{0.60}{16818542}{2069}{1937}
\E{vptr}{mptr}{1.08}{674604746}{3715}{1937}
\E{ltc}{eqc}{1.27}{8578417}{6496}{1937}
\E{tdrc}{ifoe}{2.03}{50455614}{504}{2060}
\E{iaic}{ifpd}{1.49}{25227807}{1563}{2060}
\E{eqc}{iar}{1.08}{8590321}{6496}{2060}
\E{ifoe}{trdd}{1.77}{50455614}{504}{2182}
\E{ifpd}{icid}{1.27}{25227807}{1563}{2182}
\E{iar}{iaro}{0.87}{8605785}{6496}{2182}
\E{trdd}{tdrd}{1.65}{50455614}{504}{2306}
\E{icid}{iaid}{1.10}{25227807}{1563}{2306}
\E{iaro}{addo}{0.70}{8617065}{6496}{2306}
\E{tdrd}{etip}{1.04}{50455614}{504}{2427}
\E{iaid}{ifpe}{0.98}{25227807}{1563}{2427}
\E{addo}{addb}{0.64}{8626055}{6496}{2427}
\E{ifpe}{icie}{0.57}{25227807}{1563}{2551}
\E{addb}{subt}{0.57}{8634385}{6496}{2551}
\E{icie}{csri}{0.53}{25227807}{1563}{2674}
\end{tikzpicture}
\end{document}
